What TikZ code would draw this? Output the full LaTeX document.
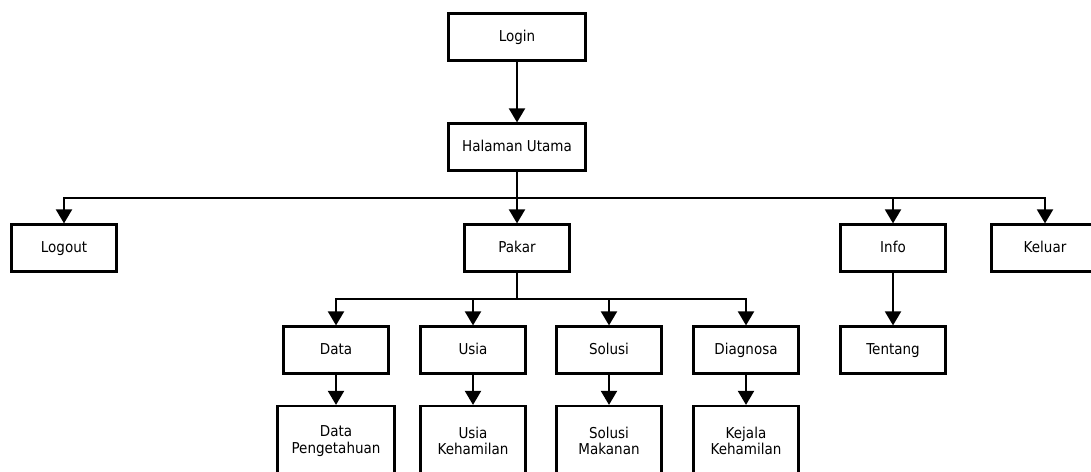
\documentclass[tikz,border=0pt]{standalone}
\usepackage{fontspec}
\setmainfont{DejaVu Sans}[FakeStretch=0.9]
\usepackage{tikz}
\usetikzlibrary{positioning, arrows.meta}

\begin{document}
\begin{tikzpicture}[x=1pt, y=-1pt]
% style: menuBox
\tikzstyle{menuBox}=[draw=black,line width=2.2pt,minimum width=105pt,minimum height=47pt,inner sep=2pt,align=center,text height=11pt,text depth=3pt,font=\fontsize{15}{16.5}\selectfont]
% style: wideBox
\tikzstyle{wideBox}=[menuBox,minimum width=137pt]
% style: leafBox
\tikzstyle{leafBox}=[draw=black,line width=2.2pt,minimum width=105pt,minimum height=70pt,inner sep=2pt,align=center,font=\fontsize{15}{16.5}\selectfont]
% style: menuEdge
\tikzstyle{menuEdge}=[line width=2pt,-{Triangle[width=16pt,length=14pt]}]

\useasboundingbox (0,0) rectangle (1091,471);

% node group: top
% node: login
\node[wideBox] (login) at (517, 37) {Login};
% node: halaman_utama
\node[wideBox] (halaman_utama) at (517, 147) {Halaman Utama};
% end of node group: top

% node group: menu
% node: logout
\node[menuBox] (logout) at (64, 248) {Logout};
% node: pakar
\node[menuBox] (pakar) at (517, 248) {Pakar};
% node: info
\node[menuBox] (info) at (893, 248) {Info};
% node: keluar
\node[menuBox, minimum width=107pt] (keluar) at (1045, 248) {Keluar};
% node: tentang
\node[menuBox] (tentang) at (893, 350) {Tentang};
% end of node group: menu

% node group: pakar_group
% node: data
\node[menuBox] (data) at (336, 350) {Data};
% node: usia
\node[menuBox] (usia) at (473, 350) {Usia};
% node: solusi
\node[menuBox] (solusi) at (609, 350) {Solusi};
% node: diagnosa
\node[menuBox] (diagnosa) at (746, 350) {Diagnosa};
% node: data_pengetahuan
\node[leafBox, minimum width=117pt] (data_pengetahuan) at (336, 441) {Data\\Pengetahuan};
% node: usia_kehamilan
\node[leafBox] (usia_kehamilan) at (473, 441) {Usia\\Kehamilan};
% node: solusi_makanan
\node[leafBox] (solusi_makanan) at (609, 441) {Solusi\\Makanan};
% node: kejala_kehamilan
\node[leafBox] (kejala_kehamilan) at (746, 441) {Kejala\\Kehamilan};
% end of node group: pakar_group

% edge from login to halaman_utama
\draw[menuEdge] (login) -- (halaman_utama);

% edges from halaman_utama to the menu
\draw[menuEdge] (halaman_utama.south) -- ++(0,26) -| (logout.north);
\draw[menuEdge] (halaman_utama.south) -- (pakar.north);
\draw[menuEdge] (halaman_utama.south) -- ++(0,26) -| (info.north);
\draw[menuEdge] (halaman_utama.south) -- ++(0,26) -| (keluar.north);

% edge from info to tentang
\draw[menuEdge] (info) -- (tentang);

% edges from pakar to its pages
\draw[menuEdge] (pakar.south) -- ++(0,26) -| (data.north);
\draw[menuEdge] (pakar.south) -- ++(0,26) -| (usia.north);
\draw[menuEdge] (pakar.south) -- ++(0,26) -| (solusi.north);
\draw[menuEdge] (pakar.south) -- ++(0,26) -| (diagnosa.north);

% edges down to the leaves
\draw[menuEdge] (data) -- (data_pengetahuan);
\draw[menuEdge] (usia) -- (usia_kehamilan);
\draw[menuEdge] (solusi) -- (solusi_makanan);
\draw[menuEdge] (diagnosa) -- (kejala_kehamilan);

\end{tikzpicture}
\end{document}
